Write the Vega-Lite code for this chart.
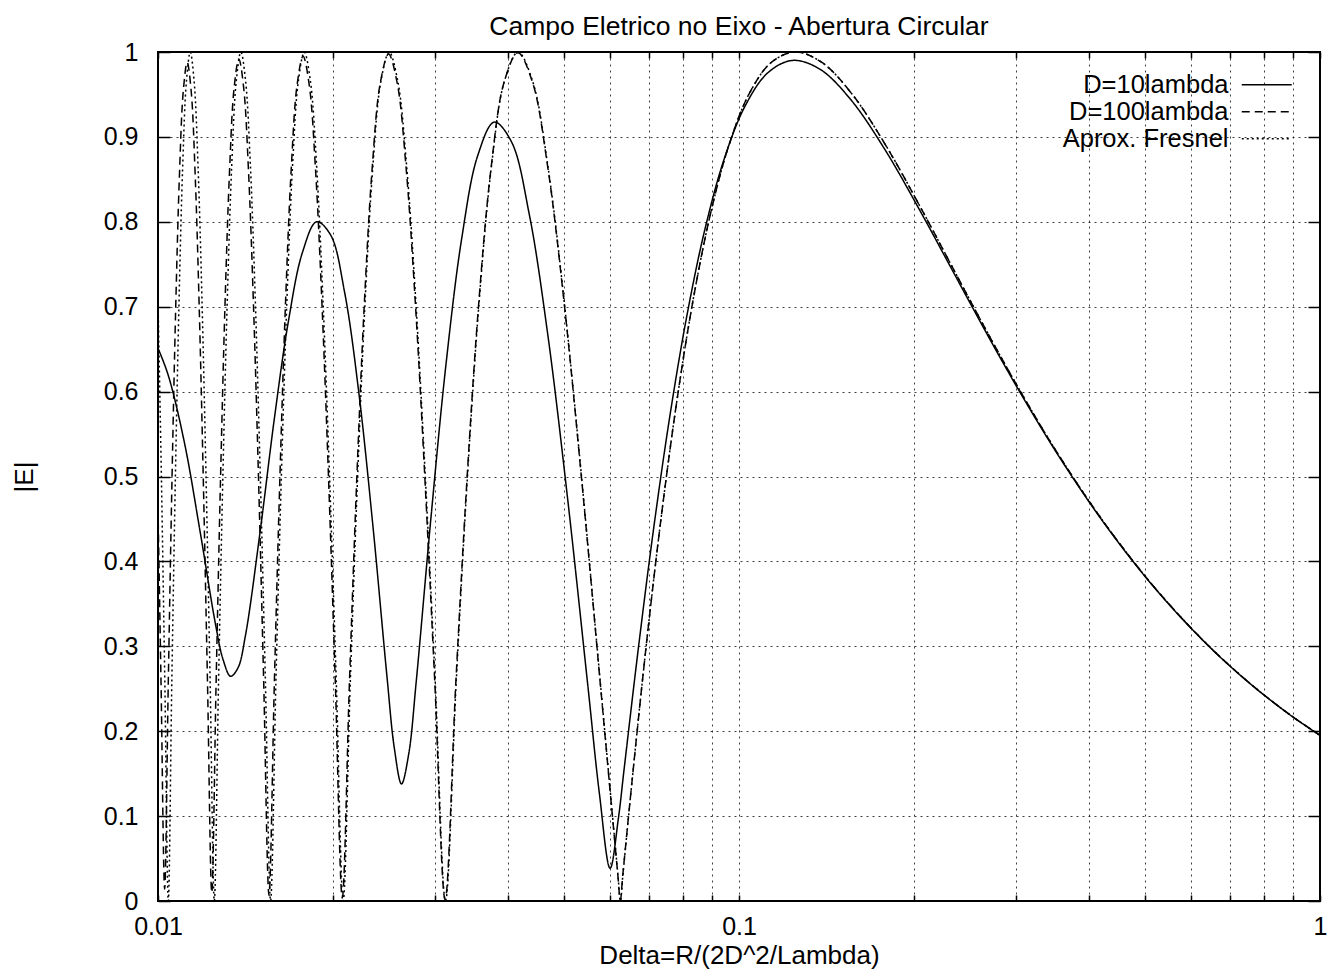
{
 "$schema": "https://vega.github.io/schema/vega-lite/v6.json",
 "width": 1162, "height": 849,
 "autosize": "none",
 "padding": {"left": 158, "top": 52, "right": 7, "bottom": 72},
 "background": "white",
 "config": {
  "font": "Liberation Sans",
  "view": {"stroke": "black", "strokeWidth": 2},
  "axis": {"domain": false, "grid": true, "gridColor": "black", "gridDash": [2, 4], "gridWidth": 1, "gridOpacity": 0.75,
   "tickColor": "black", "tickWidth": 1.5, "labelColor": "black", "labelFontSize": 25, "labelFont": "Liberation Sans",
   "titleFont": "Liberation Sans", "titleFontSize": 26, "titleFontWeight": "normal", "titleColor": "black", "labelOverlap": false, "labelFlush": false}
 },
 "title": {"text": "Campo Eletrico no Eixo - Abertura Circular", "fontSize": 26.5, "fontWeight": "normal", "font": "Liberation Sans", "color": "black", "anchor": "middle", "offset": 0},
 "data": {"values": [
  {"curve":"Aprox. Fresnel","delta":1.0,"E":0.1951},{"curve":"Aprox. Fresnel","delta":0.89286,"E":0.2181},{"curve":"Aprox. Fresnel","delta":0.78125,"E":0.2487},{"curve":"Aprox. Fresnel","delta":0.69444,"E":0.279},{"curve":"Aprox. Fresnel","delta":0.625,"E":0.309},{"curve":"Aprox. Fresnel","delta":0.54348,"E":0.3535},{"curve":"Aprox. Fresnel","delta":0.48077,"E":0.3972},{"curve":"Aprox. Fresnel","delta":0.41667,"E":0.454},{"curve":"Aprox. Fresnel","delta":0.35714,"E":0.5225},{"curve":"Aprox. Fresnel","delta":0.3125,"E":0.5878},{"curve":"Aprox. Fresnel","delta":0.27778,"E":0.6495},{"curve":"Aprox. Fresnel","delta":0.25,"E":0.7071},{"curve":"Aprox. Fresnel","delta":0.22727,"E":0.7604},{"curve":"Aprox. Fresnel","delta":0.20833,"E":0.809},{"curve":"Aprox. Fresnel","delta":0.17857,"E":0.891},{"curve":"Aprox. Fresnel","delta":0.15625,"E":0.9511},{"curve":"Aprox. Fresnel","delta":0.13889,"E":0.9877},{"curve":"Aprox. Fresnel","delta":0.125,"E":1},{"curve":"Aprox. Fresnel","delta":0.11364,"E":0.9877},{"curve":"Aprox. Fresnel","delta":0.10417,"E":0.9511},{"curve":"Aprox. Fresnel","delta":0.096154,"E":0.891},{"curve":"Aprox. Fresnel","delta":0.089286,"E":0.809},{"curve":"Aprox. Fresnel","delta":0.083333,"E":0.7071},{"curve":"Aprox. Fresnel","delta":0.078125,"E":0.5878},{"curve":"Aprox. Fresnel","delta":0.073529,"E":0.454},{"curve":"Aprox. Fresnel","delta":0.069444,"E":0.309},{"curve":"Aprox. Fresnel","delta":0.065789,"E":0.1564},{"curve":"Aprox. Fresnel","delta":0.063131,"E":0.0314},{"curve":"Aprox. Fresnel","delta":0.0625,"E":0},{"curve":"Aprox. Fresnel","delta":0.061881,"E":0.0314},
  {"curve":"Aprox. Fresnel","delta":0.057692,"E":0.2588},{"curve":"Aprox. Fresnel","delta":0.053571,"E":0.5},{"curve":"Aprox. Fresnel","delta":0.05,"E":0.7071},{"curve":"Aprox. Fresnel","delta":0.046875,"E":0.866},{"curve":"Aprox. Fresnel","delta":0.044118,"E":0.9659},{"curve":"Aprox. Fresnel","delta":0.041667,"E":1},{"curve":"Aprox. Fresnel","delta":0.039474,"E":0.9659},{"curve":"Aprox. Fresnel","delta":0.0375,"E":0.866},{"curve":"Aprox. Fresnel","delta":0.035714,"E":0.7071},{"curve":"Aprox. Fresnel","delta":0.034091,"E":0.5},{"curve":"Aprox. Fresnel","delta":0.032609,"E":0.2588},{"curve":"Aprox. Fresnel","delta":0.03125,"E":0},
  {"curve":"Aprox. Fresnel","delta":0.03,"E":0.2588},{"curve":"Aprox. Fresnel","delta":0.028846,"E":0.5},{"curve":"Aprox. Fresnel","delta":0.027778,"E":0.7071},{"curve":"Aprox. Fresnel","delta":0.026786,"E":0.866},{"curve":"Aprox. Fresnel","delta":0.025862,"E":0.9659},{"curve":"Aprox. Fresnel","delta":0.025,"E":1},{"curve":"Aprox. Fresnel","delta":0.024194,"E":0.9659},{"curve":"Aprox. Fresnel","delta":0.023438,"E":0.866},{"curve":"Aprox. Fresnel","delta":0.022727,"E":0.7071},{"curve":"Aprox. Fresnel","delta":0.022059,"E":0.5},{"curve":"Aprox. Fresnel","delta":0.021429,"E":0.2588},{"curve":"Aprox. Fresnel","delta":0.020833,"E":0},
  {"curve":"Aprox. Fresnel","delta":0.02027,"E":0.2588},{"curve":"Aprox. Fresnel","delta":0.019737,"E":0.5},{"curve":"Aprox. Fresnel","delta":0.019231,"E":0.7071},{"curve":"Aprox. Fresnel","delta":0.01875,"E":0.866},{"curve":"Aprox. Fresnel","delta":0.018293,"E":0.9659},{"curve":"Aprox. Fresnel","delta":0.017857,"E":1},{"curve":"Aprox. Fresnel","delta":0.017442,"E":0.9659},{"curve":"Aprox. Fresnel","delta":0.017045,"E":0.866},{"curve":"Aprox. Fresnel","delta":0.016667,"E":0.7071},{"curve":"Aprox. Fresnel","delta":0.016304,"E":0.5},{"curve":"Aprox. Fresnel","delta":0.015957,"E":0.2588},{"curve":"Aprox. Fresnel","delta":0.015625,"E":0},
  {"curve":"Aprox. Fresnel","delta":0.015306,"E":0.2588},{"curve":"Aprox. Fresnel","delta":0.015,"E":0.5},{"curve":"Aprox. Fresnel","delta":0.014706,"E":0.7071},{"curve":"Aprox. Fresnel","delta":0.014423,"E":0.866},{"curve":"Aprox. Fresnel","delta":0.014151,"E":0.9659},{"curve":"Aprox. Fresnel","delta":0.013889,"E":1},{"curve":"Aprox. Fresnel","delta":0.013636,"E":0.9659},{"curve":"Aprox. Fresnel","delta":0.013393,"E":0.866},{"curve":"Aprox. Fresnel","delta":0.013158,"E":0.7071},{"curve":"Aprox. Fresnel","delta":0.012931,"E":0.5},{"curve":"Aprox. Fresnel","delta":0.012712,"E":0.2588},{"curve":"Aprox. Fresnel","delta":0.0125,"E":0},
  {"curve":"Aprox. Fresnel","delta":0.012295,"E":0.2588},{"curve":"Aprox. Fresnel","delta":0.012097,"E":0.5},{"curve":"Aprox. Fresnel","delta":0.011905,"E":0.7071},{"curve":"Aprox. Fresnel","delta":0.011719,"E":0.866},{"curve":"Aprox. Fresnel","delta":0.011538,"E":0.9659},{"curve":"Aprox. Fresnel","delta":0.011364,"E":1},{"curve":"Aprox. Fresnel","delta":0.011194,"E":0.9659},{"curve":"Aprox. Fresnel","delta":0.011029,"E":0.866},{"curve":"Aprox. Fresnel","delta":0.01087,"E":0.7071},{"curve":"Aprox. Fresnel","delta":0.010714,"E":0.5},{"curve":"Aprox. Fresnel","delta":0.010563,"E":0.2588},{"curve":"Aprox. Fresnel","delta":0.010417,"E":0},
  {"curve":"Aprox. Fresnel","delta":0.010274,"E":0.2588},{"curve":"Aprox. Fresnel","delta":0.010135,"E":0.5},{"curve":"Aprox. Fresnel","delta":0.01,"E":0.7071},

  {"curve":"D=100lambda","delta":1.0,"E":0.1951},{"curve":"D=100lambda","delta":0.89286,"E":0.2181},{"curve":"D=100lambda","delta":0.78125,"E":0.2487},{"curve":"D=100lambda","delta":0.69444,"E":0.279},{"curve":"D=100lambda","delta":0.625,"E":0.309},{"curve":"D=100lambda","delta":0.54348,"E":0.3535},{"curve":"D=100lambda","delta":0.48077,"E":0.3972},{"curve":"D=100lambda","delta":0.41667,"E":0.454},{"curve":"D=100lambda","delta":0.35714,"E":0.5225},{"curve":"D=100lambda","delta":0.3125,"E":0.5878},{"curve":"D=100lambda","delta":0.27778,"E":0.6495},{"curve":"D=100lambda","delta":0.25,"E":0.7071},{"curve":"D=100lambda","delta":0.22727,"E":0.7604},{"curve":"D=100lambda","delta":0.20833,"E":0.809},{"curve":"D=100lambda","delta":0.17857,"E":0.891},{"curve":"D=100lambda","delta":0.15625,"E":0.9511},{"curve":"D=100lambda","delta":0.13889,"E":0.9877},{"curve":"D=100lambda","delta":0.125,"E":1},{"curve":"D=100lambda","delta":0.11364,"E":0.9877},{"curve":"D=100lambda","delta":0.10417,"E":0.9511},{"curve":"D=100lambda","delta":0.096154,"E":0.891},{"curve":"D=100lambda","delta":0.089286,"E":0.809},{"curve":"D=100lambda","delta":0.083333,"E":0.7071},{"curve":"D=100lambda","delta":0.078125,"E":0.5878},{"curve":"D=100lambda","delta":0.073529,"E":0.454},{"curve":"D=100lambda","delta":0.069444,"E":0.309},{"curve":"D=100lambda","delta":0.065789,"E":0.1564},{"curve":"D=100lambda","delta":0.063106,"E":0.0314},{"curve":"D=100lambda","delta":0.062475,"E":0.0004},{"curve":"D=100lambda","delta":0.061856,"E":0.0314},
  {"curve":"D=100lambda","delta":0.057665,"E":0.2587},{"curve":"D=100lambda","delta":0.053542,"E":0.4998},{"curve":"D=100lambda","delta":0.049969,"E":0.7067},{"curve":"D=100lambda","delta":0.046842,"E":0.8654},{"curve":"D=100lambda","delta":0.044083,"E":0.9651},{"curve":"D=100lambda","delta":0.041629,"E":0.9991},{"curve":"D=100lambda","delta":0.039434,"E":0.9649},{"curve":"D=100lambda","delta":0.037458,"E":0.865},{"curve":"D=100lambda","delta":0.03567,"E":0.7063},{"curve":"D=100lambda","delta":0.034045,"E":0.4993},{"curve":"D=100lambda","delta":0.032561,"E":0.2584},{"curve":"D=100lambda","delta":0.0312,"E":0.0016},
  {"curve":"D=100lambda","delta":0.029948,"E":0.2583},{"curve":"D=100lambda","delta":0.028792,"E":0.499},{"curve":"D=100lambda","delta":0.027722,"E":0.7056},{"curve":"D=100lambda","delta":0.026728,"E":0.864},{"curve":"D=100lambda","delta":0.025802,"E":0.9636},{"curve":"D=100lambda","delta":0.024938,"E":0.9975},{"curve":"D=100lambda","delta":0.024129,"E":0.9633},{"curve":"D=100lambda","delta":0.023371,"E":0.8635},{"curve":"D=100lambda","delta":0.022658,"E":0.7049},{"curve":"D=100lambda","delta":0.021988,"E":0.4984},{"curve":"D=100lambda","delta":0.021356,"E":0.2579},{"curve":"D=100lambda","delta":0.020758,"E":0.0036},
  {"curve":"D=100lambda","delta":0.020193,"E":0.2578},{"curve":"D=100lambda","delta":0.019658,"E":0.498},{"curve":"D=100lambda","delta":0.01915,"E":0.7041},{"curve":"D=100lambda","delta":0.018667,"E":0.8622},{"curve":"D=100lambda","delta":0.018208,"E":0.9614},{"curve":"D=100lambda","delta":0.01777,"E":0.9951},{"curve":"D=100lambda","delta":0.017352,"E":0.961},{"curve":"D=100lambda","delta":0.016953,"E":0.8613},{"curve":"D=100lambda","delta":0.016573,"E":0.7031},{"curve":"D=100lambda","delta":0.016208,"E":0.4971},{"curve":"D=100lambda","delta":0.015859,"E":0.2573},{"curve":"D=100lambda","delta":0.015525,"E":0.0064},
  {"curve":"D=100lambda","delta":0.015204,"E":0.2572},{"curve":"D=100lambda","delta":0.014896,"E":0.4965},{"curve":"D=100lambda","delta":0.0146,"E":0.7019},{"curve":"D=100lambda","delta":0.014315,"E":0.8594},{"curve":"D=100lambda","delta":0.014041,"E":0.9584},{"curve":"D=100lambda","delta":0.013777,"E":0.9919},{"curve":"D=100lambda","delta":0.013521,"E":0.9578},{"curve":"D=100lambda","delta":0.013276,"E":0.8585},{"curve":"D=100lambda","delta":0.013039,"E":0.7007},{"curve":"D=100lambda","delta":0.01281,"E":0.4954},{"curve":"D=100lambda","delta":0.012589,"E":0.2565},{"curve":"D=100lambda","delta":0.012375,"E":0.0099},
  {"curve":"D=100lambda","delta":0.012168,"E":0.2563},{"curve":"D=100lambda","delta":0.011968,"E":0.4947},{"curve":"D=100lambda","delta":0.011774,"E":0.6993},{"curve":"D=100lambda","delta":0.011586,"E":0.8562},{"curve":"D=100lambda","delta":0.011403,"E":0.9547},{"curve":"D=100lambda","delta":0.011226,"E":0.988},{"curve":"D=100lambda","delta":0.011054,"E":0.9539},{"curve":"D=100lambda","delta":0.010887,"E":0.8549},{"curve":"D=100lambda","delta":0.010726,"E":0.6978},{"curve":"D=100lambda","delta":0.010568,"E":0.4933},{"curve":"D=100lambda","delta":0.010415,"E":0.2556},{"curve":"D=100lambda","delta":0.010267,"E":0.0142},
  {"curve":"D=100lambda","delta":0.010122,"E":0.2554},{"curve":"D=100lambda","delta":0.01,"E":0.4625},

  {"curve":"D=10lambda","delta":1.0,"E":0.1951},{"curve":"D=10lambda","delta":0.89268,"E":0.2181},{"curve":"D=10lambda","delta":0.78105,"E":0.2486},{"curve":"D=10lambda","delta":0.69422,"E":0.2789},{"curve":"D=10lambda","delta":0.62475,"E":0.3089},{"curve":"D=10lambda","delta":0.54319,"E":0.3533},{"curve":"D=10lambda","delta":0.48044,"E":0.3969},{"curve":"D=10lambda","delta":0.41629,"E":0.4536},{"curve":"D=10lambda","delta":0.3567,"E":0.5219},{"curve":"D=10lambda","delta":0.312,"E":0.5869},{"curve":"D=10lambda","delta":0.27722,"E":0.6481},{"curve":"D=10lambda","delta":0.24938,"E":0.7054},{"curve":"D=10lambda","delta":0.22658,"E":0.7581},{"curve":"D=10lambda","delta":0.20758,"E":0.8061},{"curve":"D=10lambda","delta":0.1777,"E":0.8867},{"curve":"D=10lambda","delta":0.15525,"E":0.945},{"curve":"D=10lambda","delta":0.13776,"E":0.9798},{"curve":"D=10lambda","delta":0.12375,"E":0.9901},{"curve":"D=10lambda","delta":0.11226,"E":0.9759},{"curve":"D=10lambda","delta":0.10267,"E":0.9376},{"curve":"D=10lambda","delta":0.094529,"E":0.8762},{"curve":"D=10lambda","delta":0.087536,"E":0.7936},{"curve":"D=10lambda","delta":0.081458,"E":0.6917},{"curve":"D=10lambda","delta":0.076125,"E":0.5735},{"curve":"D=10lambda","delta":0.071404,"E":0.442},{"curve":"D=10lambda","delta":0.067194,"E":0.3008},{"curve":"D=10lambda","delta":0.063414,"E":0.1549},{"curve":"D=10lambda","delta":0.062008,"E":0.0976},{"curve":"D=10lambda","delta":0.06,"E":0.0385},{"curve":"D=10lambda","delta":0.057496,"E":0.127},
  {"curve":"D=10lambda","delta":0.054984,"E":0.251},{"curve":"D=10lambda","delta":0.050655,"E":0.4763},{"curve":"D=10lambda","delta":0.046875,"E":0.6668},{"curve":"D=10lambda","delta":0.043542,"E":0.8092},{"curve":"D=10lambda","delta":0.040576,"E":0.8944},{"curve":"D=10lambda","delta":0.037917,"E":0.9174},{"curve":"D=10lambda","delta":0.035515,"E":0.8782},{"curve":"D=10lambda","delta":0.033333,"E":0.781},{"curve":"D=10lambda","delta":0.031339,"E":0.6347},{"curve":"D=10lambda","delta":0.029508,"E":0.4525},{"curve":"D=10lambda","delta":0.027817,"E":0.2574},{"curve":"D=10lambda","delta":0.027019,"E":0.1738},{"curve":"D=10lambda","delta":0.02625,"E":0.1379},{"curve":"D=10lambda","delta":0.025508,"E":0.1805},{"curve":"D=10lambda","delta":0.024792,"E":0.2628},{"curve":"D=10lambda","delta":0.02343,"E":0.4427},{"curve":"D=10lambda","delta":0.022153,"E":0.6},{"curve":"D=10lambda","delta":0.020952,"E":0.7168},{"curve":"D=10lambda","delta":0.01982,"E":0.7845},{"curve":"D=10lambda","delta":0.01875,"E":0.8},{"curve":"D=10lambda","delta":0.017735,"E":0.7644},{"curve":"D=10lambda","delta":0.016771,"E":0.6833},{"curve":"D=10lambda","delta":0.015852,"E":0.5672},{"curve":"D=10lambda","delta":0.014976,"E":0.4331},{"curve":"D=10lambda","delta":0.014137,"E":0.3121},{"curve":"D=10lambda","delta":0.013731,"E":0.2747},{"curve":"D=10lambda","delta":0.013333,"E":0.2647},{"curve":"D=10lambda","delta":0.012944,"E":0.2842},{"curve":"D=10lambda","delta":0.012562,"E":0.3256},{"curve":"D=10lambda","delta":0.01182,"E":0.4345},{"curve":"D=10lambda","delta":0.011106,"E":0.5396},{"curve":"D=10lambda","delta":0.010417,"E":0.619},{"curve":"D=10lambda","delta":0.01,"E":0.6511}
 ]},
 "layer": [
  {
   "mark": {"type": "line", "strokeWidth": 1.5, "color": "black", "clip": true, "interpolate": "catmull-rom"},
   "encoding": {
    "x": {"field": "delta", "type": "quantitative", "scale": {"type": "log", "domain": [0.01, 1], "nice": false},
     "axis": {"orient": "bottom", "title": "Delta=R/(2D^2/Lambda)", "titlePadding": 3, "tickSize": -6, "labelPadding": 19,
      "values": [0.01,0.02,0.03,0.04,0.05,0.06,0.07,0.08,0.09,0.1,0.2,0.3,0.4,0.5,0.6,0.7,0.8,0.9,1],
      "format": "~g", "labelExpr": "(datum.value == 0.01 || datum.value == 0.1 || datum.value == 1) ? datum.label : ''"}},
    "y": {"field": "E", "type": "quantitative", "scale": {"domain": [0, 1], "nice": false, "zero": false},
     "axis": {"orient": "left", "title": "|E|", "titlePadding": 66, "tickSize": -12, "labelPadding": 32,
      "values": [0,0.1,0.2,0.3,0.4,0.5,0.6,0.7,0.8,0.9,1], "format": "~g"}},
    "strokeDash": {"field": "curve", "type": "nominal",
     "scale": {"domain": ["D=10lambda", "D=100lambda", "Aprox. Fresnel"], "range": [[1, 0], [8, 5], [2, 3]]},
     "legend": {"orient": "none", "legendX": 1096, "legendY": 20, "title": null, "symbolType": "M-5,0H5", "symbolSize": 100,
      "symbolStrokeWidth": 1.5, "symbolStrokeColor": "black", "labelFontSize": 25.5, "labelFont": "Liberation Sans", "labelColor": "black",
      "labelAlign": "right", "labelOffset": -51, "labelLimit": 400, "rowPadding": 0, "padding": 0}}
   }
  },
  {
   "mark": {"type": "point", "opacity": 0},
   "encoding": {
    "x": {"field": "delta", "type": "quantitative",
     "axis": {"orient": "top", "title": null, "labels": false, "grid": false, "tickSize": -6,
      "values": [0.01,0.02,0.03,0.04,0.05,0.06,0.07,0.08,0.09,0.1,0.2,0.3,0.4,0.5,0.6,0.7,0.8,0.9,1]}},
    "y": {"field": "E", "type": "quantitative",
     "axis": {"orient": "right", "title": null, "labels": false, "grid": false, "tickSize": -12,
      "values": [0,0.1,0.2,0.3,0.4,0.5,0.6,0.7,0.8,0.9,1]}}
   }
  }
 ],
 "resolve": {"axis": {"x": "independent", "y": "independent"}}
}
